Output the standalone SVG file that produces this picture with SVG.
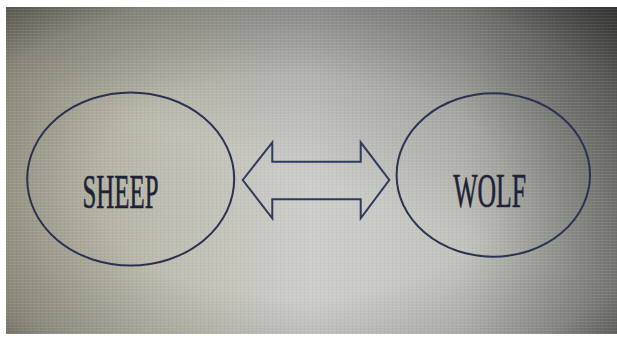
<svg xmlns="http://www.w3.org/2000/svg" width="617" height="339" viewBox="0 0 617 339">
<defs>
<linearGradient id="bgH" x1="0" y1="0" x2="1" y2="0">
<stop offset="0" stop-color="#a4a290"/>
<stop offset="0.25" stop-color="#bdbcae"/>
<stop offset="0.5" stop-color="#cdcecb"/>
<stop offset="0.75" stop-color="#c2c2bc"/>
<stop offset="1" stop-color="#8e8e88"/>
</linearGradient>
<radialGradient id="vig" cx="0.48" cy="0.55" r="0.75">
<stop offset="0.45" stop-color="#000" stop-opacity="0"/>
<stop offset="0.8" stop-color="#000" stop-opacity="0.18"/>
<stop offset="1" stop-color="#000" stop-opacity="0.45"/>
</radialGradient>
<linearGradient id="tr" x1="0.6" y1="0.6" x2="1" y2="0">
<stop offset="0" stop-color="#000" stop-opacity="0"/>
<stop offset="1" stop-color="#000" stop-opacity="0.35"/>
</linearGradient>
<pattern id="lines" width="4" height="3" patternUnits="userSpaceOnUse">
<rect width="4" height="1" fill="#ffffff" opacity="0.08"/>
<rect x="0" y="0" width="1" height="3" fill="#000" opacity="0.03"/>
</pattern>
</defs>
<style>
.node{fill:none;stroke:#2b3152;stroke-width:2}
.lbl{font-family:"Liberation Serif","Times New Roman",serif;font-size:48px;fill:#1e2236;stroke:#1e2236;stroke-width:0.6;text-anchor:middle}
.conn{fill:none;stroke:#2e3a5e;stroke-width:2;stroke-linejoin:miter}
</style>
<rect width="617" height="339" fill="#ffffff"/>
<g id="background">
<rect x="6" y="7" width="611" height="327" fill="url(#bgH)"/>
<rect x="6" y="7" width="611" height="327" fill="url(#vig)"/>
<rect x="6" y="7" width="611" height="327" fill="url(#tr)"/>
<rect x="6" y="7" width="611" height="327" fill="url(#lines)"/>
</g>
<g id="sheep">
<ellipse class="node" cx="130.7" cy="179" rx="103.5" ry="86.5"/>
<text class="lbl" x="120.5" y="208" textLength="76" lengthAdjust="spacingAndGlyphs">SHEEP</text>
</g>
<g id="wolf">
<ellipse class="node" cx="493.3" cy="175" rx="96.7" ry="81.7"/>
<text class="lbl" x="489.7" y="207" textLength="73" lengthAdjust="spacingAndGlyphs">WOLF</text>
</g>
<g id="connectors">
<path class="conn" d="M242.7,180 L272.3,142.3 L272.3,161.7 L360.7,161.7 L360.7,142.3 L389.3,180 L360.7,218.3 L360.7,199.3 L272.3,199.3 L272.3,218.3 Z"/>
</g>
</svg>
